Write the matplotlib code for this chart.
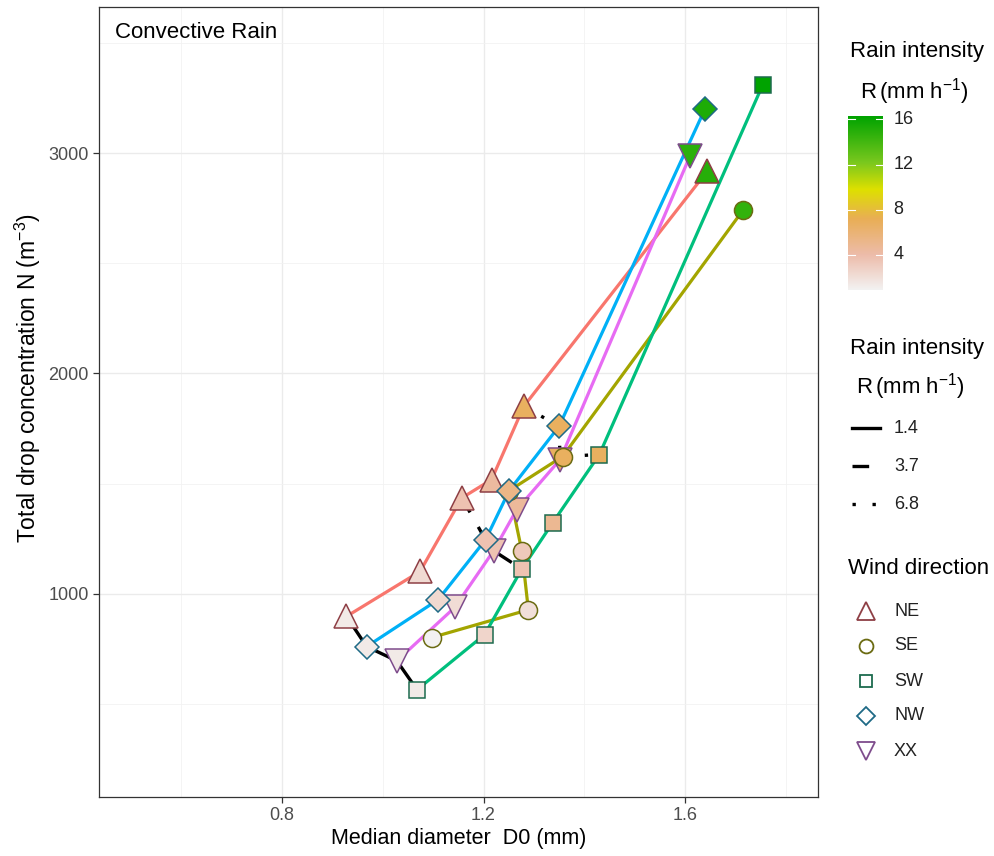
import numpy as np
import matplotlib.pyplot as plt
from matplotlib.colors import LinearSegmentedColormap, Normalize

plt.rcParams['font.family'] = ['Liberation Sans', 'DejaVu Sans']
plt.rcParams['mathtext.fontset'] = 'custom'
plt.rcParams['mathtext.rm'] = 'Liberation Sans'
plt.rcParams['mathtext.it'] = 'Liberation Sans:italic'

# data: D0 (mm), N (m^-3), rain intensity R (mm/h)
directions = ['NE', 'SE', 'SW', 'NW', 'XX']

d0_ne = [0.928, 1.074, 1.157, 1.216, 1.280, 1.644]
n_ne = [897, 1101, 1435, 1518, 1851, 2918]
r_ne = [1.4, 2.3, 3.7, 4.4, 6.8, 15.0]

d0_se = [1.097, 1.289, 1.276, 1.251, 1.357, 1.715]
n_se = [801, 927, 1195, 1468, 1623, 2741]
r_se = [1.0, 2.0, 3.3, 4.8, 6.8, 14.6]

d0_sw = [1.068, 1.202, 1.276, 1.337, 1.430, 1.754]
n_sw = [564, 814, 1112, 1321, 1632, 3309]
r_sw = [1.4, 2.6, 3.7, 4.9, 6.8, 16.3]

d0_nw = [0.968, 1.110, 1.204, 1.251, 1.350, 1.640]
n_nw = [760, 973, 1245, 1468, 1760, 3203]
r_nw = [1.4, 2.4, 3.7, 5.4, 6.8, 15.3]

d0_xx = [1.028, 1.143, 1.220, 1.266, 1.352, 1.610]
n_xx = [695, 938, 1195, 1382, 1609, 2988]
r_xx = [1.4, 2.2, 3.7, 4.6, 6.8, 14.8]

iso_levels = [1.4, 3.7, 6.8]
iso_styles = ['-', (0, (5, 5)), (0, (1, 5))]

series = {
    'NE': (d0_ne, n_ne, r_ne),
    'SE': (d0_se, n_se, r_se),
    'SW': (d0_sw, n_sw, r_sw),
    'NW': (d0_nw, n_nw, r_nw),
    'XX': (d0_xx, n_xx, r_xx),
}
line_colors = {'NE': '#F8766D', 'SE': '#A3A500', 'SW': '#00BF7D',
               'NW': '#00B0F6', 'XX': '#E76BF3'}
edge_colors = {'NE': '#8E3F45', 'SE': '#6B6B12', 'SW': '#1D6B4E',
               'NW': '#1F6A86', 'XX': '#7E4C8C'}
markers = {'NE': '^', 'SE': 'o', 'SW': 's', 'NW': 'D', 'XX': 'v'}
msizes = {'NE': 17.5, 'SE': 13, 'SW': 11.5, 'NW': 12, 'XX': 17.5}
leg_sizes = {'NE': 13, 'SE': 10, 'SW': 9, 'NW': 9.5, 'XX': 13}

r_min, r_max = 0.9, 16.3
cmap = LinearSegmentedColormap.from_list('rain', [
    (0.0, '#F3F2F2'),
    ((4 - r_min) / (r_max - r_min), '#EDBCAA'),
    ((7.2 - r_min) / (r_max - r_min), '#E9AE55'),
    ((9.8 - r_min) / (r_max - r_min), '#DEE000'),
    ((12.2 - r_min) / (r_max - r_min), '#7AC81E'),
    (1.0, '#00A300'),
])
norm = Normalize(r_min, r_max)

fig = plt.figure(figsize=(9.94, 8.56), dpi=100)
ax = fig.add_axes([98.5 / 994, 1 - 797 / 856, (818 - 98.5) / 994, (797 - 7) / 856])

# coloured paths per wind direction
for k in directions:
    x, y, r = series[k]
    ax.plot(x, y, color=line_colors[k], lw=2.3, zorder=3, solid_capstyle='butt')

# black lines joining equal rain intensity
for lev, ls in zip(iso_levels, iso_styles):
    pts = []
    for k in directions:
        x, y, r = series[k]
        for xi, yi, ri in zip(x, y, r):
            if ri == lev:
                pts.append((xi, yi))
    pts.sort()
    ax.plot([p[0] for p in pts], [p[1] for p in pts], color='black', lw=2.4,
            linestyle=ls, zorder=4, dash_capstyle='butt')

# points filled by rain intensity
for k in ['NE', 'XX', 'SE', 'SW', 'NW']:
    x, y, r = series[k]
    for xi, yi, ri in zip(x, y, r):
        ax.plot(xi, yi, marker=markers[k], ms=msizes[k], mfc=cmap(norm(ri)),
                mec=edge_colors[k], mew=1.1, linestyle='none', zorder=5)

ax.set_xlim(0.4357, 1.864)
ax.set_ylim(77, 3664)
ax.set_xticks([0.8, 1.2, 1.6])
ax.set_xticklabels(['0.8', '1.2', '1.6'])
ax.set_yticks([1000, 2000, 3000])
ax.set_xticks([0.6, 1.0, 1.4, 1.8], minor=True)
ax.set_yticks([500, 1500, 2500, 3500], minor=True)
ax.grid(which='major', color='#EBEBEB', lw=1.0, zorder=0)
ax.grid(which='minor', color='#F2F2F2', lw=0.6, zorder=0)
ax.set_axisbelow(True)
ax.tick_params(which='major', length=4, width=0.9, color='#333333',
               labelsize=13, labelcolor='#4D4D4D', pad=3)
ax.tick_params(which='minor', length=0)
for s in ax.spines.values():
    s.set_color('#333333')
    s.set_linewidth(0.9)

ax.set_xlabel('Median diameter  D0 (mm)', fontsize=15.5, labelpad=3)
fig.text(28 / 994, 1 - 378 / 856, 'Total drop concentration N (m$^{-3}$)',
         rotation=90, fontsize=16.5, ha='center', va='center')
fig.text(115 / 994, 1 - 33 / 856, 'Convective Rain', fontsize=16,
         va='center', ha='left')

# colour bar legend
fig.text(850 / 994, 1 - 52 / 856, 'Rain intensity', fontsize=16, va='center')
fig.text(860 / 994, 1 - 92 / 856, r'R$\,$(mm h$^{-1}$)', fontsize=16, va='center')
cax = fig.add_axes([848 / 994, 1 - 290 / 856, 35 / 994, 174 / 856])
grad = np.linspace(r_min, r_max, 256).reshape(-1, 1)
cax.imshow(grad, aspect='auto', cmap=cmap, norm=norm, origin='lower',
           extent=[0, 1, r_min, r_max])
cax.set_xlim(0, 1)
cax.set_ylim(r_min, r_max)
cax.set_xticks([])
cax.set_yticks([])
for s in cax.spines.values():
    s.set_visible(False)
for t in [4, 8, 12, 16]:
    cax.plot([0, 0.2], [t, t], color='white', lw=0.8)
    cax.plot([0.8, 1], [t, t], color='white', lw=0.8)
    cax.text(1.3, t, str(t), fontsize=13, color='#222222', va='center', ha='left')

# overlay in pixel units for the remaining legends
lg = fig.add_axes([0, 0, 1, 1])
lg.set_xlim(0, 994)
lg.set_ylim(856, 0)
lg.axis('off')

lg.text(850, 348, 'Rain intensity', fontsize=16, va='center')
lg.text(856, 387, r'R$\,$(mm h$^{-1}$)', fontsize=16, va='center')
for i, (lev, ls) in enumerate(zip(iso_levels, iso_styles)):
    yy = 428 + i * 38
    lg.plot([852, 880], [yy, yy], color='black', lw=2.4, linestyle=ls, dash_capstyle='butt')
    lg.text(894, yy, str(lev), fontsize=13, color='#222222', va='center')

lg.text(848, 568, 'Wind direction', fontsize=16, va='center')
for i, k in enumerate(directions):
    yy = 611 + i * 35
    lg.plot(866, yy, marker=markers[k], ms=leg_sizes[k], mfc='white',
            mec=edge_colors[k], mew=1.3, linestyle='none')
    lg.text(894, yy, k, fontsize=13, color='#222222', va='center')

fig.savefig('out.png', dpi=100)
